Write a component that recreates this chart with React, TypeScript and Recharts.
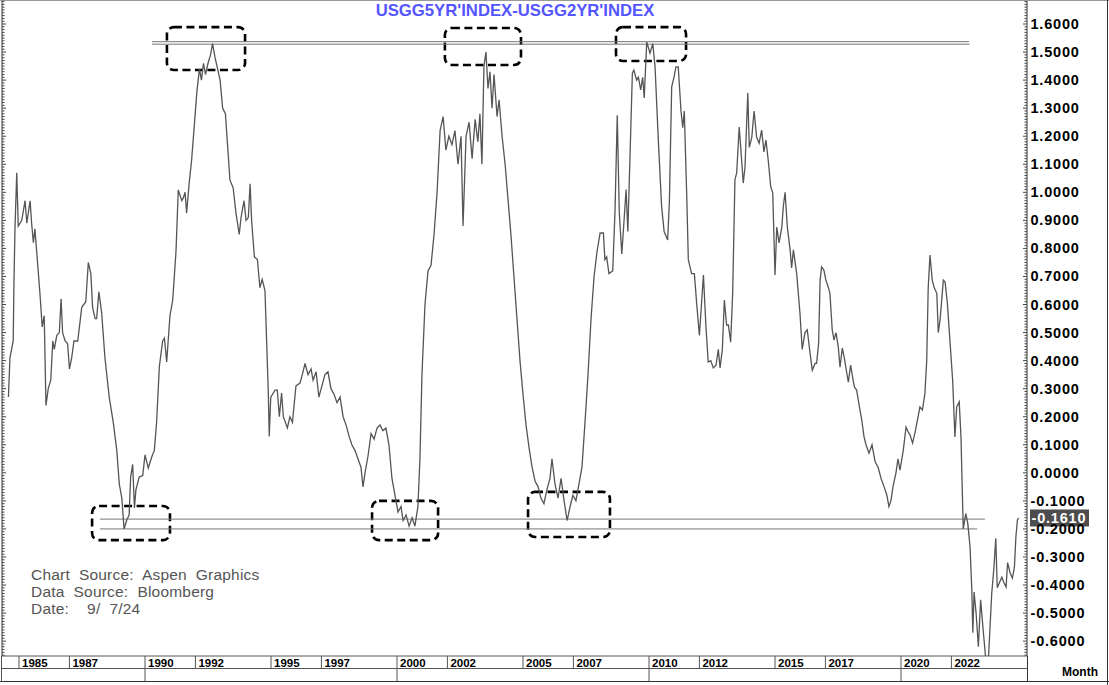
import React from "react";
import { LineChart, Line, XAxis, YAxis, ReferenceLine, ReferenceArea } from "recharts";

const FONT = "'Liberation Sans', Arial, Helvetica, sans-serif";

const title = "USGG5YR'INDEX-USGG2YR'INDEX";
const sourceLines = ["Chart  Source:  Aspen  Graphics", "Data  Source:  Bloomberg", "Date:    9/  7/24"];
const xUnit = "Month";

// decimal-year dates of the readings
const dates = [
  1984.58, 1984.64, 1984.77, 1984.80, 1984.84, 1984.91, 1984.97, 1985.11, 1985.24, 1985.31,
  1985.44, 1985.50, 1985.57, 1985.63, 1985.70, 1985.83, 1985.92, 1986.00, 1986.07, 1986.16,
  1986.26, 1986.34, 1986.40, 1986.50, 1986.60, 1986.67, 1986.73, 1986.83, 1986.93, 1987.00,
  1987.09, 1987.18, 1987.33, 1987.49, 1987.65, 1987.75, 1987.85, 1987.92, 1988.02, 1988.08,
  1988.17, 1988.28, 1988.41, 1988.58, 1988.74, 1988.88, 1988.98, 1989.08, 1989.17, 1989.27,
  1989.37, 1989.43, 1989.51, 1989.58, 1989.64, 1989.77, 1989.91, 1990.00, 1990.13, 1990.27,
  1990.37, 1990.46, 1990.57, 1990.70, 1990.77, 1990.86, 1990.99, 1991.10, 1991.23, 1991.32,
  1991.46, 1991.52, 1991.59, 1991.65, 1991.76, 1991.85, 1991.94, 1992.06, 1992.16, 1992.24,
  1992.32, 1992.40, 1992.50, 1992.60, 1992.68, 1992.78, 1992.88, 1992.98, 1993.08, 1993.19,
  1993.29, 1993.37, 1993.50, 1993.61, 1993.74, 1993.81, 1993.93, 1994.01, 1994.10, 1994.17,
  1994.23, 1994.34, 1994.46, 1994.56, 1994.65, 1994.76, 1994.83, 1994.89, 1994.93, 1994.99,
  1995.16, 1995.25, 1995.33, 1995.42, 1995.49, 1995.65, 1995.75, 1995.85, 1995.99, 1996.15,
  1996.27, 1996.35, 1996.47, 1996.59, 1996.67, 1996.79, 1996.90, 1997.02, 1997.14, 1997.26,
  1997.38, 1997.50, 1997.62, 1997.74, 1997.86, 1997.98, 1998.10, 1998.21, 1998.33, 1998.45,
  1998.57, 1998.65, 1998.73, 1998.85, 1998.97, 1999.09, 1999.21, 1999.33, 1999.44, 1999.56,
  1999.68, 1999.80, 1999.92, 2000.04, 2000.16, 2000.24, 2000.36, 2000.48, 2000.60, 2000.71,
  2000.83, 2000.91, 2000.99, 2001.11, 2001.23, 2001.35, 2001.47, 2001.59, 2001.71, 2001.83,
  2001.94, 2002.06, 2002.18, 2002.30, 2002.42, 2002.54, 2002.62, 2002.74, 2002.86, 2002.98,
  2003.10, 2003.21, 2003.29, 2003.37, 2003.45, 2003.53, 2003.61, 2003.69, 2003.77, 2003.85,
  2003.97, 2004.05, 2004.17, 2004.29, 2004.40, 2004.52, 2004.64, 2004.76, 2004.88, 2005.00,
  2005.12, 2005.24, 2005.36, 2005.48, 2005.60, 2005.71, 2005.83, 2005.95, 2006.07, 2006.15,
  2006.27, 2006.39, 2006.51, 2006.63, 2006.75, 2006.87, 2006.98, 2007.10, 2007.22, 2007.34,
  2007.46, 2007.58, 2007.70, 2007.82, 2007.94,
  2008.06, 2008.19, 2008.25, 2008.32, 2008.41, 2008.56, 2008.65, 2008.74, 2008.82, 2008.92,
  2009.01, 2009.09, 2009.16, 2009.25, 2009.34, 2009.40, 2009.51, 2009.58, 2009.67, 2009.75,
  2009.81, 2009.91, 2010.04, 2010.15, 2010.24, 2010.37, 2010.50, 2010.60, 2010.74, 2010.81,
  2010.90, 2010.99, 2011.07, 2011.16, 2011.27, 2011.34, 2011.40, 2011.50, 2011.56, 2011.69,
  2011.80, 2011.89, 2012.00, 2012.16, 2012.26, 2012.35, 2012.45, 2012.55, 2012.66, 2012.75,
  2012.82, 2012.91, 2012.99, 2013.08, 2013.15, 2013.24, 2013.32, 2013.41, 2013.48, 2013.58,
  2013.64, 2013.74, 2013.81, 2013.92, 2013.98, 2014.08, 2014.17, 2014.27, 2014.37, 2014.47,
  2014.56, 2014.64, 2014.73, 2014.83, 2014.91, 2015.00, 2015.07, 2015.16, 2015.27, 2015.33,
  2015.40, 2015.49, 2015.60, 2015.66, 2015.73, 2015.86, 2015.99, 2016.08, 2016.19, 2016.28,
  2016.39, 2016.48, 2016.59, 2016.65, 2016.73, 2016.79, 2016.85, 2016.94, 2017.02, 2017.12,
  2017.18, 2017.27, 2017.34, 2017.42, 2017.51, 2017.58, 2017.67, 2017.75, 2017.85, 2017.91,
  2018.00, 2018.08, 2018.15, 2018.24, 2018.35, 2018.44, 2018.53, 2018.61, 2018.73, 2018.85,
  2018.97, 2019.09, 2019.21, 2019.33, 2019.44, 2019.52, 2019.60, 2019.68, 2019.80, 2019.88,
  2019.96, 2020.09, 2020.20, 2020.29, 2020.36, 2020.46, 2020.56, 2020.69, 2020.75, 2020.85,
  2020.95, 2021.02, 2021.08, 2021.15, 2021.24, 2021.32, 2021.42, 2021.48, 2021.55, 2021.68,
  2021.75, 2021.84, 2021.94, 2022.05, 2022.14, 2022.21, 2022.31, 2022.38, 2022.47, 2022.57,
  2022.65, 2022.74, 2022.81, 2022.85, 2022.90, 2022.98, 2023.07, 2023.16, 2023.27, 2023.36,
  2023.46, 2023.60, 2023.69, 2023.76, 2023.82, 2023.90, 2024.00, 2024.09, 2024.17, 2024.23,
  2024.33, 2024.42, 2024.50, 2024.56, 2024.62, 2024.67,
];

// 5yr - 2yr spread (percentage points)
const spread = [
  0.27, 0.41, 0.47, 0.68, 0.87, 1.07, 0.88, 0.90, 0.97, 0.89,
  0.97, 0.89, 0.82, 0.87, 0.79, 0.64, 0.52, 0.56, 0.24, 0.30,
  0.33, 0.47, 0.44, 0.49, 0.50, 0.62, 0.50, 0.47, 0.46, 0.37,
  0.41, 0.47, 0.47, 0.59, 0.61, 0.75, 0.71, 0.59, 0.55, 0.55,
  0.645, 0.57, 0.41, 0.27, 0.18, 0.08, -0.04, -0.09, -0.20, -0.17,
  -0.15, -0.015, 0.03, -0.125, -0.06, -0.015, -0.01, 0.064, 0.017, 0.057,
  0.08, 0.18, 0.38, 0.47, 0.48, 0.395, 0.56, 0.616, 0.79, 1.008,
  0.97, 0.98, 1.0, 0.926, 1.04, 1.115, 1.22, 1.36, 1.44, 1.40,
  1.46, 1.42, 1.46, 1.49, 1.53, 1.48, 1.44, 1.40, 1.30, 1.28,
  1.15, 1.044, 1.015, 0.926, 0.85, 0.91, 0.97, 0.90, 0.91, 1.03,
  0.90, 0.77, 0.76, 0.66, 0.69, 0.65, 0.46, 0.295, 0.13, 0.27,
  0.295, 0.295, 0.20, 0.284, 0.20, 0.16, 0.20, 0.18, 0.31, 0.32,
  0.36, 0.39, 0.35, 0.37, 0.33, 0.36, 0.27, 0.31, 0.35, 0.36,
  0.30, 0.28, 0.25, 0.27, 0.20, 0.17, 0.13, 0.10, 0.08, 0.05,
  0.02, -0.05, 0.0, 0.06, 0.14, 0.12, 0.16, 0.17, 0.15, 0.16,
  0.10, -0.02, -0.08, -0.14, -0.12, -0.17, -0.15, -0.19, -0.16, -0.19,
  -0.12, 0.05, 0.35, 0.60, 0.72, 0.74, 0.85, 1.0, 1.22, 1.27,
  1.15, 1.20, 1.17, 1.22, 1.10, 1.20, 0.88, 1.20, 1.25, 1.12,
  1.26, 1.18, 1.28, 1.10, 1.45, 1.50, 1.37, 1.43, 1.30, 1.42,
  1.27, 1.33, 1.20, 1.10, 0.98, 0.85, 0.70, 0.55, 0.40, 0.28,
  0.17, 0.09, 0.02, -0.03, -0.05, -0.09, -0.11, -0.06, -0.02, 0.05,
  -0.04, -0.09, -0.02, -0.10, -0.17, -0.12, -0.08, -0.10, -0.04, 0.02,
  0.18, 0.35, 0.55, 0.70, 0.79,
  0.855, 0.855, 0.76, 0.77, 0.71, 0.72, 0.93, 1.275, 0.93, 0.78,
  0.90, 1.01, 0.86, 1.14, 1.425, 1.436, 1.40, 1.41, 1.365, 1.41,
  1.336, 1.536, 1.496, 1.53, 1.447, 1.186, 0.95, 0.86, 0.83, 0.97,
  1.376, 1.41, 1.447, 1.447, 1.29, 1.23, 1.29, 0.98, 0.76, 0.71,
  0.71, 0.605, 0.49, 0.705, 0.52, 0.395, 0.40, 0.374, 0.384, 0.44,
  0.374, 0.44, 0.616, 0.527, 0.527, 0.466, 0.64, 1.044, 1.07, 1.233,
  1.16, 1.033, 1.09, 1.354, 1.16, 1.197, 1.29, 1.197, 1.175, 1.222,
  1.144, 1.186, 1.115, 1.02, 0.998, 0.705, 0.876, 0.82, 0.876, 0.95,
  1.0, 0.876, 0.795, 0.73, 0.795, 0.71, 0.57, 0.44, 0.50, 0.51,
  0.427, 0.366, 0.39, 0.39, 0.46, 0.687, 0.734, 0.723, 0.687, 0.66,
  0.64, 0.51, 0.473, 0.50, 0.45, 0.377, 0.445, 0.41, 0.355, 0.323,
  0.384, 0.34, 0.306, 0.295, 0.235, 0.19, 0.13, 0.10, 0.07, 0.10,
  0.04, 0.02, -0.02, -0.05, -0.08, -0.12, -0.10, -0.05, 0.0, 0.05,
  0.01, 0.08, 0.163, 0.145, 0.135, 0.106, 0.145, 0.206, 0.235, 0.224,
  0.284, 0.40, 0.66, 0.776, 0.687, 0.66, 0.64, 0.50, 0.545, 0.687,
  0.68, 0.605, 0.473, 0.33, 0.128, 0.235, 0.253, 0.128, -0.20, -0.145,
  -0.18, -0.264, -0.418, -0.57, -0.425, -0.50, -0.62, -0.453, -0.57, -0.66,
  -0.68, -0.43, -0.336, -0.233, -0.41, -0.393, -0.372, -0.393, -0.407, -0.32,
  -0.357, -0.375, -0.336, -0.228, -0.168, -0.161,
];

const yearTicks = [1985, 1987, 1990, 1992, 1995, 1997, 2000, 2002, 2005, 2007, 2010, 2012, 2015, 2017, 2020, 2022];
const valueLabels = [-0.6, -0.5, -0.4, -0.3, -0.2, -0.1, 0, 0.1, 0.2, 0.3, 0.4, 0.5, 0.6, 0.7, 0.8, 0.9, 1.0, 1.1, 1.2, 1.3, 1.4, 1.5, 1.6];
const minorTicks = Array.from({ length: 234 }, (_, i) => (i - 65) / 100);

const xDomain = [1984.325, 2025];
const yDomain = [-0.653, 1.682];

// horizontal resistance / support guides
const peakBand = [1.537, 1.528];
const peakBandFrom = [1990.28, 1990.28];
const peakBandTo = [2022.7, 2022.72];
const troughBand = [-0.165, -0.2];
const troughBandFrom = [1988.21, 1988.21];
const troughBandTo = [2023.33, 2023.02];

// dashed highlight boxes
const boxFrom = [1990.87, 2001.9, 2008.69, 1987.9, 1999.01, 2005.2];
const boxTo = [1993.97, 2004.92, 2011.47, 1990.99, 2001.63, 2008.45];
const boxHigh = [1.589, 1.586, 1.589, -0.118, -0.1, -0.068];
const boxLow = [1.436, 1.454, 1.468, -0.24, -0.24, -0.229];

const data = dates.map((t, i) => ({ t, v: spread[i] }));
const lastValue = spread[spread.length - 1];

const isMajor = (v: number) => valueLabels.some((m) => Math.abs(m - v) < 1e-6);

const XTick = (props: any) => {
  const { x, y, payload } = props;
  const decade = payload.value % 10 === 0;
  return (
    <g>
      <line x1={x} x2={x} y1={y} y2={y + (decade ? 25.5 : 12.5)} stroke="#555" strokeWidth={1} />
      <text x={x + 3} y={y + 11} fontSize={11.5} fontWeight="bold" fontFamily={FONT} fill="#000">
        {payload.value}
      </text>
    </g>
  );
};

const RightTick = (props: any) => {
  const { x, y, payload } = props;
  const v = payload.value;
  const major = isMajor(v);
  return (
    <g>
      <line x1={x - (major ? 4 : 2.5)} x2={x} y1={y} y2={y} stroke="#444" strokeWidth={1} />
      {major && (
        <text x={x + 3.5} y={y + 5} fontSize={14.5} fontWeight="bold" fontFamily={FONT} fill="#000" letterSpacing={0.8}>
          {v.toFixed(4)}
        </text>
      )}
    </g>
  );
};

const LeftTick = (props: any) => {
  const { x, y, payload } = props;
  const major = isMajor(payload.value);
  return <line x1={x} x2={x + (major ? 4 : 2.5)} y1={y} y2={y} stroke="#444" strokeWidth={1} />;
};

const LastTag = (props: any) => {
  const vb = props.viewBox || {};
  const bx = vb.x + vb.width + 3;
  const by = vb.y;
  return (
    <g>
      <rect x={bx} y={by - 8.5} width={59} height={17} fill="#4d4d4d" />
      <text x={bx + 1.5} y={by + 5.5} fontSize={14.5} fontWeight="bold" fontFamily={FONT} fill="#fff" letterSpacing={0.8}>
        {lastValue.toFixed(4)}
      </text>
    </g>
  );
};

const DashedBox = (props: any) => (
  <rect
    x={props.x}
    y={props.y}
    width={props.width}
    height={props.height}
    rx={7}
    ry={7}
    fill="none"
    stroke="#000"
    strokeWidth={2.6}
    strokeDasharray="8 4.5"
  />
);

export default function App() {
  return (
    <div style={{ position: "absolute", left: 0, top: 0, width: 1109, height: 685, background: "#fff" }}>
      <LineChart width={1109} height={685} data={data} margin={{ top: 1, right: 0, bottom: 0, left: 0 }}>
        <XAxis
          dataKey="t"
          type="number"
          domain={xDomain}
          allowDataOverflow
          ticks={yearTicks}
          interval={0}
          height={29}
          tickSize={0}
          tickMargin={0}
          tickLine={false}
          axisLine={{ stroke: "#555" }}
          tick={(p: any) => <XTick {...p} />}
        />
        <YAxis
          yAxisId="l"
          orientation="left"
          width={2}
          type="number"
          domain={yDomain}
          allowDataOverflow
          ticks={minorTicks}
          interval={0}
          tickSize={0}
          tickMargin={0}
          tickLine={false}
          axisLine={{ stroke: "#333" }}
          tick={(p: any) => <LeftTick {...p} />}
        />
        <YAxis
          yAxisId="r"
          orientation="right"
          width={82}
          type="number"
          domain={yDomain}
          allowDataOverflow
          ticks={minorTicks}
          interval={0}
          tickSize={0}
          tickMargin={0}
          tickLine={false}
          axisLine={{ stroke: "#333" }}
          tick={(p: any) => <RightTick {...p} />}
        />
        {peakBand.map((v, i) => (
          <ReferenceLine
            key={"pb" + i}
            yAxisId="r"
            segment={[{ x: peakBandFrom[i], y: v }, { x: peakBandTo[i], y: v }]}
            stroke="#777"
            strokeWidth={1}
          />
        ))}
        {troughBand.map((v, i) => (
          <ReferenceLine
            key={"tb" + i}
            yAxisId="r"
            segment={[{ x: troughBandFrom[i], y: v }, { x: troughBandTo[i], y: v }]}
            stroke="#777"
            strokeWidth={1}
          />
        ))}
        <Line
          yAxisId="r"
          dataKey="v"
          type="linear"
          stroke="#555"
          strokeWidth={1.3}
          dot={false}
          activeDot={false}
          isAnimationActive={false}
        />
        {boxFrom.map((x1, i) => (
          <ReferenceArea
            key={"box" + i}
            yAxisId="r"
            x1={x1}
            x2={boxTo[i]}
            y1={boxLow[i]}
            y2={boxHigh[i]}
            ifOverflow="visible"
            shape={(p: any) => <DashedBox {...p} />}
          />
        ))}
        <ReferenceLine
          yAxisId="r"
          y={lastValue}
          stroke="none"
          ifOverflow="visible"
          label={(p: any) => <LastTag {...p} />}
        />
      </LineChart>
      <svg
        width={1109}
        height={685}
        style={{ position: "absolute", left: 0, top: 0, pointerEvents: "none" }}
      >
        <line x1={0} x2={1109} y1={0.5} y2={0.5} stroke="#999" />
        <line x1={2} x2={1027} y1={668.5} y2={668.5} stroke="#555" />
        <line x1={0} x2={1109} y1={681.5} y2={681.5} stroke="#333" />
        <line x1={1.5} x2={1.5} y1={656} y2={682} stroke="#555" />
        <line x1={1027.5} x2={1027.5} y1={656} y2={682} stroke="#333" />
        <line x1={1107.5} x2={1107.5} y1={0} y2={685} stroke="#333" />
        <text x={515} y={15.5} textAnchor="middle" fontSize={16.7} fontWeight="bold" fontFamily={FONT} fill="#5555ff">
          {title}
        </text>
        {sourceLines.map((s, i) => (
          <text
            key={s}
            x={31}
            y={580 + i * 17}
            fontSize={15.5}
            fontFamily={FONT}
            fill="#555"
            letterSpacing={0.2}
            style={{ whiteSpace: "pre" }}
            xmlSpace="preserve"
          >
            {s}
          </text>
        ))}
        <text x={1062} y={676} fontSize={12} fontWeight="bold" fontFamily={FONT} fill="#000">
          {xUnit}
        </text>
      </svg>
    </div>
  );
}
